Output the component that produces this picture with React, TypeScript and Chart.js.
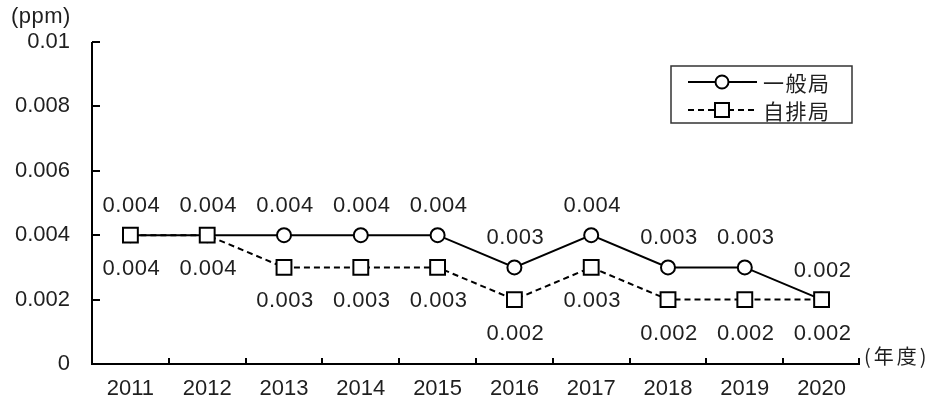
import React, { useEffect, useRef } from "react";
import { Chart, registerables } from "chart.js";

Chart.register(...registerables);

const years = ["2011", "2012", "2013", "2014", "2015", "2016", "2017", "2018", "2019", "2020"];
const ippan = [0.004, 0.004, 0.004, 0.004, 0.004, 0.003, 0.004, 0.003, 0.003, 0.002];
const jihai = [0.004, 0.004, 0.003, 0.003, 0.003, 0.002, 0.003, 0.002, 0.002, 0.002];
const yTicks = [0, 0.002, 0.004, 0.006, 0.008, 0.01];
const yTickLabels = ["0", "0.002", "0.004", "0.006", "0.008", "0.01"];
const seriesNames = ["一般局", "自排局"];
const yUnit = "(ppm)";
const xUnit = "(年度)";

const NUM_FONT = "'Liberation Sans'";
const CJK_FONT = "'Noto Sans CJK JP'";
const INK = "#1f1f1f";

const decorPlugin = {
  id: "decor",
  beforeDatasetsDraw(chart: any) {
    const ctx = chart.ctx;
    const x = chart.scales.x;
    const y = chart.scales.y;
    const area = chart.chartArea;
    ctx.save();
    ctx.strokeStyle = "#000";
    ctx.lineWidth = 2;
    ctx.setLineDash([]);
    ctx.beginPath();
    ctx.moveTo(area.left, area.top);
    ctx.lineTo(area.left, area.bottom);
    ctx.lineTo(area.right, area.bottom);
    ctx.stroke();
    yTicks.forEach((v) => {
      const py = Math.round(y.getPixelForValue(v));
      ctx.beginPath();
      ctx.moveTo(area.left, py);
      ctx.lineTo(area.left + 8, py);
      ctx.stroke();
    });
    for (let i = 1; i <= years.length; i++) {
      const last = i === years.length;
      const px = Math.round(
        last ? area.right - 1 : (x.getPixelForValue(i - 1) + x.getPixelForValue(i)) / 2
      );
      ctx.beginPath();
      ctx.moveTo(px, area.bottom);
      ctx.lineTo(px, area.bottom - 6);
      ctx.stroke();
    }
    ctx.restore();
  },
  afterDatasetsDraw(chart: any) {
    const ctx = chart.ctx;
    ctx.save();
    ctx.fillStyle = INK;
    ctx.font = `22px ${NUM_FONT}`;
    ctx.letterSpacing = "0.5px";
    ctx.textAlign = "center";
    ctx.textBaseline = "middle";
    chart.data.datasets.forEach((ds: any, di: number) => {
      const meta = chart.getDatasetMeta(di);
      const above = ds.label === seriesNames[0];
      meta.data.forEach((pt: any, i: number) => {
        const v = ds.data[i];
        ctx.fillText(v.toFixed(3), pt.x + 1, pt.y + (above ? -29 : 34));
      });
    });

    ctx.textAlign = "left";
    ctx.fillText(yUnit, 11, 17);
    ctx.font = `20px ${CJK_FONT}`;
    ctx.letterSpacing = "3px";
    ctx.fillText(xUnit, 864, 356);

    const lx = 671, ly = 66, lw = 181, lh = 57;
    ctx.strokeStyle = "#333";
    ctx.lineWidth = 1.5;
    ctx.strokeRect(lx, ly, lw, lh);
    const rows = [82, 110];
    chart.data.datasets.forEach((ds: any) => {
      const row = rows[seriesNames.indexOf(ds.label)];
      ctx.strokeStyle = "#000";
      ctx.lineWidth = 2;
      ctx.setLineDash(ds.borderDash || []);
      ctx.beginPath();
      ctx.moveTo(688, row);
      ctx.lineTo(757, row);
      ctx.stroke();
      ctx.setLineDash([]);
      ctx.fillStyle = "#fff";
      ctx.beginPath();
      if (ds.pointStyle === "circle") {
        ctx.arc(722, row, 6.5, 0, Math.PI * 2);
      } else {
        ctx.rect(715, row - 7, 14, 14);
      }
      ctx.fill();
      ctx.stroke();
      ctx.fillStyle = INK;
      ctx.font = `21px ${CJK_FONT}`;
      ctx.letterSpacing = "1.5px";
      ctx.fillText(ds.label, 763, row + 1);
    });
    ctx.restore();
  },
};

export default function App() {
  const ref = useRef<HTMLCanvasElement | null>(null);
  useEffect(() => {
    if (!ref.current) return;
    const chart = new Chart(ref.current, {
      type: "line",
      data: {
        labels: years,
        datasets: [
          {
            label: seriesNames[1],
            data: jihai,
            order: 0,
            borderColor: "#000",
            borderWidth: 2,
            borderDash: [6, 4],
            pointStyle: "rect",
            pointRadius: 10.5,
            pointBorderWidth: 2,
            pointBackgroundColor: "#fff",
            pointBorderColor: "#000",
            tension: 0,
          },
          {
            label: seriesNames[0],
            data: ippan,
            order: 1,
            borderColor: "#000",
            borderWidth: 2,
            pointStyle: "circle",
            pointRadius: 7,
            pointBorderWidth: 2,
            pointBackgroundColor: "#fff",
            pointBorderColor: "#000",
            tension: 0,
          },
        ],
      },
      options: {
        responsive: false,
        animation: false,
        layout: { padding: { top: 42, right: 85, left: 0, bottom: 0 } },
        plugins: {
          legend: { display: false },
          tooltip: { enabled: false },
          title: { display: false },
        },
        scales: {
          x: {
            type: "category",
            offset: true,
            grid: { display: false, drawTicks: false },
            border: { display: false },
            ticks: {
              color: INK,
              font: { family: NUM_FONT, size: 22 },
              padding: 12,
              maxRotation: 0,
              autoSkip: false,
            },
            afterFit: (s: any) => {
              s.height = 44;
            },
          },
          y: {
            min: 0,
            max: 0.01,
            grid: { display: false, drawTicks: false },
            border: { display: false },
            afterBuildTicks: (s: any) => {
              s.ticks = yTicks.map((v) => ({ value: v }));
            },
            ticks: {
              color: INK,
              font: { family: NUM_FONT, size: 22 },
              padding: 22,
              callback: (v: any) => {
                const i = yTicks.findIndex((t) => Math.abs(t - Number(v)) < 1e-9);
                return i >= 0 ? yTickLabels[i] : "";
              },
            },
            afterFit: (s: any) => {
              s.width = 92;
            },
          },
        },
      },
      plugins: [decorPlugin],
    } as any);
    return () => chart.destroy();
  }, []);
  return (
    <div style={{ position: "absolute", left: 0, top: 0, width: 945, height: 408, background: "#fff" }}>
      <canvas ref={ref} width={945} height={408} style={{ display: "block" }} />
    </div>
  );
}
